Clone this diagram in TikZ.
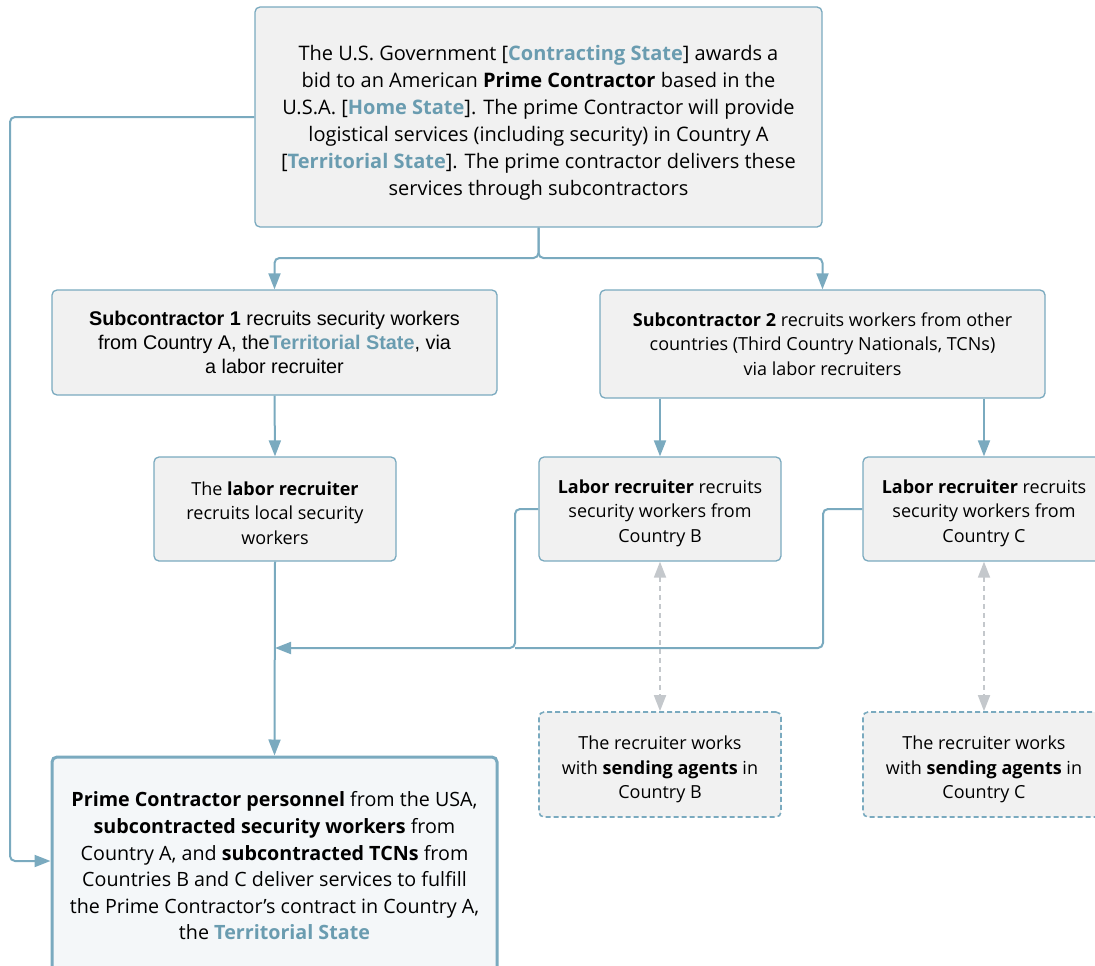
\documentclass[tikz,border=0pt]{standalone}
\usepackage{fontspec}
\setmainfont{Open Sans}
\newfontfamily\arialfont{Liberation Sans}
\usetikzlibrary{arrows.meta,positioning,calc}
\definecolor{edge}{RGB}{122,170,191}
\definecolor{state}{RGB}{106,156,176}
\definecolor{boxfill}{RGB}{241,241,241}
\definecolor{endfill}{RGB}{244,247,249}
\definecolor{agentline}{RGB}{196,200,204}
\newcommand{\st}[1]{\textbf{\textcolor{state}{#1}}}
\newcommand{\lift}[1]{\rule{0pt}{#1}}

\begin{document}
\begin{tikzpicture}[x=1pt,y=-1pt,
  font=\fontsize{18}{24.5}\selectfont,
  box/.style={draw=edge,line width=1.3pt,fill=boxfill,rounded corners=5pt,
    align=center,inner sep=0pt},
  sendbox/.style={box,dashed,dash pattern=on 5pt off 3pt,line width=1.6pt},
  endbox/.style={box,fill=endfill,line width=3pt},
  conn/.style={draw=edge,line width=2pt,rounded corners=5pt,
    -{Triangle[length=16pt,width=12pt]}},
  plain/.style={draw=edge,line width=2pt,rounded corners=5pt},
  agent/.style={draw=agentline,line width=1.8pt,dashed,dash pattern=on 5pt off 4pt,
    {Triangle[length=16pt,width=12pt]}-{Triangle[length=16pt,width=12pt]}}]
  \useasboundingbox (0,0) rectangle (1095,966);
  % boxes
  \node[box,minimum width=567pt,minimum height=220pt,
    font=\fontsize{20}{27}\selectfont] (top) at (538.5,117)
    {\lift{26pt}The U.S. Government [\st{Contracting State}] awards a\\
     bid to an American \textbf{Prime Contractor} based in the\\
     U.S.A. [\st{Home State}]. The prime Contractor will provide\\
     logistical services (including security) in Country A\\
     {[}\st{Territorial State}]. The prime contractor delivers these\\
     services through subcontractors};
  \node[box,minimum width=445pt,minimum height=105pt,
    font=\arialfont\fontsize{19.8}{24}\selectfont] (sub1) at (274.5,342.5)
    {\textbf{Subcontractor 1} recruits security workers\\
     from Country A, the\st{Territorial State}, via\\
     a labor recruiter};
  \node[box,minimum width=445pt,minimum height=108pt] (sub2) at (822.5,344)
    {\textbf{Subcontractor 2} recruits workers from other\\
     countries (Third Country Nationals, TCNs)\\
     via labor recruiters};
  \node[box,minimum width=242pt,minimum height=104pt] (lrA) at (275,509)
    {\lift{22pt}The \textbf{labor recruiter}\\ recruits local security\\ workers};
  \node[box,minimum width=242pt,minimum height=104pt] (lrB) at (660,509)
    {\lift{22pt}\textbf{Labor recruiter} recruits\\ security workers from\\ Country B};
  \node[box,minimum width=242pt,minimum height=104pt] (lrC) at (984,509)
    {\lift{22pt}\textbf{Labor recruiter} recruits\\ security workers from\\ Country C};
  \node[sendbox,minimum width=242pt,minimum height=105pt] (sendB) at (660,764.5)
    {\lift{24pt}The recruiter works\\ with \textbf{sending agents} in\\ Country B};
  \node[sendbox,minimum width=242pt,minimum height=105pt] (sendC) at (984,764.5)
    {\lift{24pt}The recruiter works\\ with \textbf{sending agents} in\\ Country C};
  \node[endbox,minimum width=445pt,minimum height=218pt,
    font=\fontsize{19.7}{26.6}\selectfont] (final) at (274.5,866)
    {\textbf{Prime Contractor personnel} from the USA,\\
     \textbf{subcontracted security workers} from\\
     Country A, and \textbf{subcontracted TCNs} from\\
     Countries B and C deliver services to fulfill\\
     the Prime Contractor’s contract in Country A,\\
     the \st{Territorial State}};
  % helper points
  \coordinate (fork) at (538.5,258);
  \coordinate (lftup) at (10,117);
  \coordinate (lftdn) at (10,861);
  \coordinate (join) at (275,648);
  \coordinate (bendB) at (515,648);
  \coordinate (bendC) at (823,648);
  % connectors
  \draw[conn] (top.south) -- (fork) -| (sub1.north);
  \draw[conn] (top.south) -- (fork) -| (sub2.north);
  \draw[conn] (top.west) -- (lftup) -- (lftdn) -- (final.west |- lftdn);
  \draw[conn] (sub1.south) -- (lrA.north);
  \draw[conn] (lrB.north |- sub2.south) -- (lrB.north);
  \draw[conn] (lrC.north |- sub2.south) -- (lrC.north);
  \draw[conn] (lrA.south) -- (final.north);
  \draw[plain] (lrC.west) -| (bendC) -- (bendB);
  \draw[conn] (lrB.west) -| (bendB) -- (join);
  \draw[agent] (lrB.south) -- (sendB.north);
  \draw[agent] (lrC.south) -- (sendC.north);
\end{tikzpicture}
\end{document}
